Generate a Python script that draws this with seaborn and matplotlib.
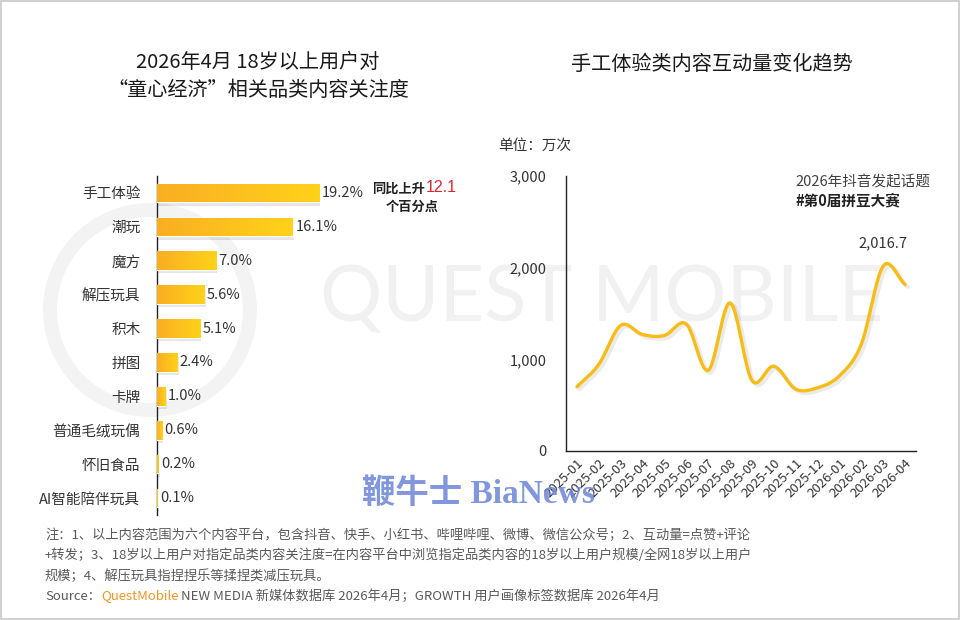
import numpy as np
import pandas as pd
import matplotlib
matplotlib.use('Agg')
import matplotlib.pyplot as plt
from matplotlib.patches import Rectangle, Ellipse
import seaborn as sns

# ---------------------------------------------------------------
# Datos
# ---------------------------------------------------------------
categorias = ['手工体验', '潮玩', '魔方', '解压玩具', '积木', '拼图', '卡牌',
              '普通毛绒玩偶', '怀旧食品', 'AI智能陪伴玩具']
atencion = [19.2, 16.1, 7.0, 5.6, 5.1, 2.4, 1.0, 0.6, 0.2, 0.1]

meses = ['2025-01', '2025-02', '2025-03', '2025-04', '2025-05', '2025-06',
         '2025-07', '2025-08', '2025-09', '2025-10', '2025-11', '2025-12',
         '2026-01', '2026-02', '2026-03', '2026-04']
interaccion = [700, 945, 1370, 1270, 1260, 1385, 880, 1615, 770, 925,
               675, 690, 820, 1165, 2016.7, 1815]
y_ticks = [0, 1000, 2000, 3000]

sns.set_theme(style='white')
plt.rcParams['font.family'] = ['Noto Sans CJK SC', 'DejaVu Sans']
plt.rcParams['axes.unicode_minus'] = False

GRIS = '#333333'
W, H = 960, 620
fig = plt.figure(figsize=(9.6, 6.2), dpi=100)
fig.patch.set_facecolor('white')

# marca de agua
fig.text(602 / W, 1 - 300 / H, 'QUEST MOBILE', fontsize=56, color='#F1F1F1',
         family=['Lato', 'DejaVu Sans'], ha='center', va='center', zorder=-5)
fig.patches.append(Ellipse((150 / W, 1 - 310 / H), 200 / W, 200 / H, transform=fig.transFigure,
                           fill=False, lw=10, edgecolor='#F3F3F3', zorder=-5))
fig.patches.append(Rectangle((0.001, 0.001), 0.998, 0.997, transform=fig.transFigure,
                             fill=False, lw=1.2, edgecolor='#C8C8C8', zorder=10))

# ---------------------------------------------------------------
# Gráfico 1: barras horizontales
# ---------------------------------------------------------------
ax1 = fig.add_axes([157 / W, 1 - 515 / H, 0.205, 339 / H])
ax1.set_facecolor('none')
df_bar = pd.DataFrame({'cat': categorias, 'val': atencion})
sns.barplot(data=df_bar, x='val', y='cat', orient='h', color='#FFC21A',
            width=0.55, ax=ax1, zorder=3)

grad = np.linspace(0, 1, 256).reshape(1, -1)
cmap = matplotlib.colors.LinearSegmentedColormap.from_list('g', ['#F9AE22', '#FFD21A'])
for p in list(ax1.patches):
    x0, y0, w, h = p.get_x(), p.get_y(), p.get_width(), p.get_height()
    sombra = Rectangle((x0 + 0.15, y0 + 0.1), w, h, color='#000000', alpha=0.10,
                       lw=0, zorder=2)
    ax1.add_patch(sombra)
    im = ax1.imshow(grad, extent=[x0, x0 + w, y0 + h, y0], cmap=cmap,
                    aspect='auto', zorder=4)
    im.set_clip_path(p)
    ax1.text(x0 + w + 0.3, y0 + h / 2, f'{w:.1f}%', va='center', ha='left',
             fontsize=10.5, color=GRIS, zorder=5)

ax1.set_xlim(0, 23.3)
ax1.set_ylim(9.5, -0.5)
ax1.set_xlabel('')
ax1.set_ylabel('')
ax1.set_xticks([])
for s in ['top', 'right', 'bottom']:
    ax1.spines[s].set_visible(False)
ax1.spines['left'].set_color('#222222')
ax1.spines['left'].set_linewidth(1.0)
ax1.tick_params(axis='y', length=0, pad=12, labelsize=10.5, labelcolor=GRIS)

fig.text(258 / W, 1 - 62 / H, '2026年4月 18岁以上用户对', ha='center', va='center',
         fontsize=14.5, color='#1A1A1A', fontweight='medium')
fig.text(258 / W, 1 - 90 / H, '“童心经济”相关品类内容关注度', ha='center', va='center',
         fontsize=14.5, color='#1A1A1A', fontweight='medium')

fig.text(372 / W, 1 - 189 / H, '同比上升', ha='left', va='center', fontsize=9.5,
         color='#222222', fontweight='bold')
fig.text(426 / W, 1 - 188 / H, '12.1', ha='left', va='center', fontsize=11.5,
         color='#E0262B', family=['Liberation Sans', 'DejaVu Sans'])
fig.text(412 / W, 1 - 207 / H, '个百分点', ha='center', va='center', fontsize=9.5,
         color='#222222', fontweight='bold')

# ---------------------------------------------------------------
# Gráfico 2: línea suavizada
# ---------------------------------------------------------------
def suavizar(y, n=24):
    # Catmull-Rom uniforme para el trazo curvo
    pts = np.asarray(y, dtype=float)
    ext = np.concatenate([[2 * pts[0] - pts[1]], pts, [2 * pts[-1] - pts[-2]]])
    xs, ys = [], []
    for i in range(len(pts) - 1):
        p0, p1, p2, p3 = ext[i], ext[i + 1], ext[i + 2], ext[i + 3]
        t = np.linspace(0, 1, n, endpoint=False)
        yy = 0.5 * ((2 * p1) + (-p0 + p2) * t + (2 * p0 - 5 * p1 + 4 * p2 - p3) * t ** 2
                    + (-p0 + 3 * p1 - 3 * p2 + p3) * t ** 3)
        xs.extend(i + t)
        ys.extend(yy)
    xs.append(len(pts) - 1)
    ys.append(pts[-1])
    return np.array(xs), np.array(ys)

ax2 = fig.add_axes([566 / W, 1 - 451 / H, 350 / W, 275 / H])
ax2.set_facecolor('none')
xs, ys = suavizar(interaccion)
df_line = pd.DataFrame({'x': xs, 'y': ys})
sns.lineplot(data=df_line, x=df_line['x'] + 0.12, y=df_line['y'] - 25, color='#000000',
             alpha=0.08, lw=3, ax=ax2, zorder=2)
sns.lineplot(data=df_line, x='x', y='y', color='#F8BC16', lw=2.4, ax=ax2, zorder=3)

ax2.set_xlim(-0.5, 15.5)
ax2.set_ylim(0, 3000)
ax2.set_yticks(y_ticks)
ax2.set_yticklabels([f'{v:,}' for v in y_ticks])
ax2.set_xticks(range(len(meses)))
ax2.set_xticklabels(meses, rotation=45, ha='right', rotation_mode='anchor')
ax2.set_xlabel('')
ax2.set_ylabel('')
for s in ['top', 'right']:
    ax2.spines[s].set_visible(False)
for s in ['left', 'bottom']:
    ax2.spines[s].set_color('#222222')
    ax2.spines[s].set_linewidth(1.0)
ax2.tick_params(axis='y', length=0, pad=14, labelsize=10.5, labelcolor=GRIS)
ax2.tick_params(axis='x', length=0, pad=4, labelsize=9.5, labelcolor=GRIS)

i_max = int(np.argmax(interaccion))
ax2.text(i_max, interaccion[i_max] + 170, f'{interaccion[i_max]:,.1f}', ha='center',
         va='bottom', fontsize=10.5, color=GRIS)

fig.text(712 / W, 1 - 64 / H, '手工体验类内容互动量变化趋势', ha='center', va='center',
         fontsize=14.5, color='#1A1A1A', fontweight='medium')
fig.text(498 / W, 1 - 146 / H, '单位：万次', ha='left', va='center', fontsize=10.5,
         color=GRIS)
fig.text(795 / W, 1 - 181 / H, '2026年抖音发起话题', ha='left', va='center',
         fontsize=10.5, color='#404040')
fig.text(795 / W, 1 - 200 / H, '#第0届拼豆大赛', ha='left', va='center',
         fontsize=10.5, color='#222222', fontweight='bold')

# marca BiaNews
fig.text(478 / W, 1 - 494 / H, '鞭牛士 BiaNews', ha='center', va='center',
         fontsize=24, color='#6A84D8', alpha=0.85, fontweight='bold',
         family=['Liberation Serif', 'Noto Sans CJK SC'], zorder=8)

# ---------------------------------------------------------------
# Notas
# ---------------------------------------------------------------
notas = ['注：1、以上内容范围为六个内容平台，包含抖音、快手、小红书、哔哩哔哩、微博、微信公众号；2、互动量=点赞+评论',
         '+转发；3、18岁以上用户对指定品类内容关注度=在内容平台中浏览指定品类内容的18岁以上用户规模/全网18岁以上用户',
         '规模；4、解压玩具指捏捏乐等揉捏类减压玩具。']
for k, linea in enumerate(notas):
    fig.text(45 / W, 1 - (535 + k * 20.5) / H, linea, ha='left', va='center',
             fontsize=9.5, color='#595959')

y_src = 1 - 596 / H
t1 = fig.text(45 / W, y_src, 'Source：', ha='left', va='center', fontsize=9.5, color='#595959')
fig.canvas.draw()
bb = t1.get_window_extent()
t2 = fig.text(bb.x1 / W, y_src, 'QuestMobile', ha='left', va='center', fontsize=9.5,
              color='#F7941D')
bb2 = t2.get_window_extent(renderer=fig.canvas.get_renderer())
fig.text(bb2.x1 / W, y_src, ' NEW MEDIA 新媒体数据库 2026年4月；GROWTH 用户画像标签数据库 2026年4月',
         ha='left', va='center', fontsize=9.5, color='#595959')

fig.savefig('out.png', dpi=100)
